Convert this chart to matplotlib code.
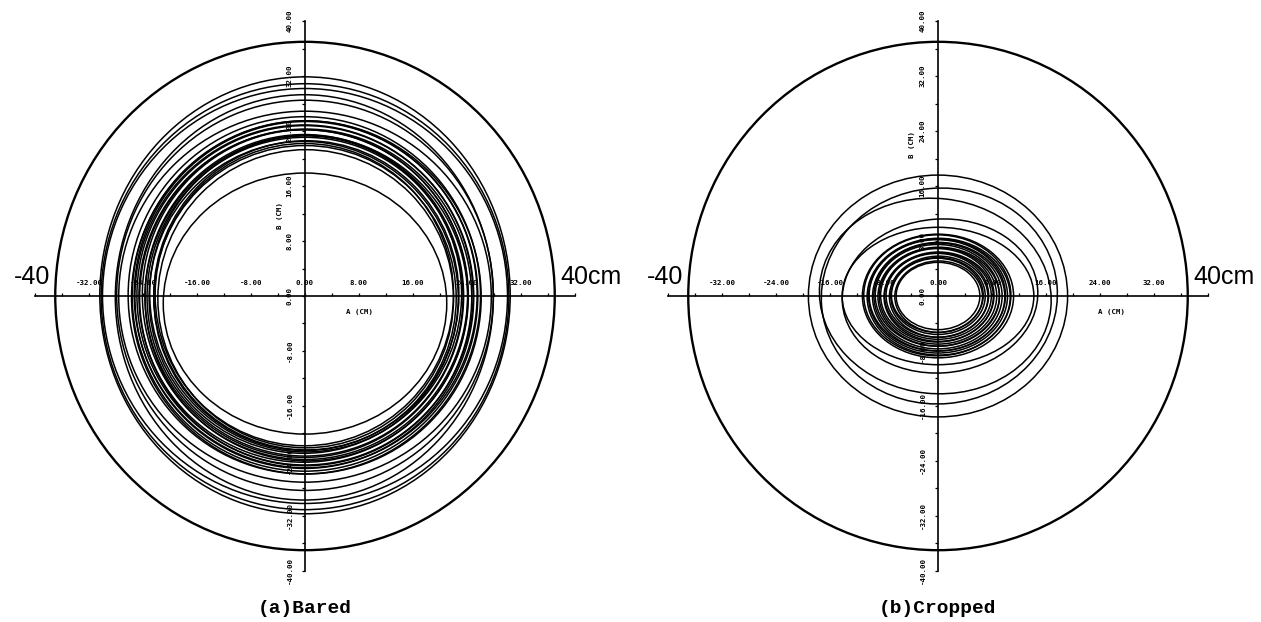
import matplotlib
matplotlib.use("Agg")
import matplotlib.pyplot as plt
from matplotlib.patches import Ellipse

# ---- data -------------------------------------------------------------
boundary_radius = 37.0          # outer reference circle (cm)
axis_limit = 40                 # axis extent (cm)
tick_step = 4
label_values = [-32, -24, -16, -8, 0, 8, 16, 24, 32]
v_label_values = [-40, -32, -24, -16, -8, 8, 16, 24, 32, 40]

# Bared beam: trajectory envelopes (rx, ry, cx, cy)
bared_rx = [21.0,
            21.9, 22.1, 22.4, 22.6, 22.9, 23.1, 23.4, 23.6, 23.9, 24.1,
            24.4, 24.6, 24.9, 25.1, 25.4, 25.6, 25.9, 26.1,
            27.6, 27.9, 28.0, 30.0, 30.2, 30.4]
bared_ry = [19.0,
            21.7, 22.0, 22.2, 22.5, 22.7, 23.0, 23.2, 23.5, 23.7, 24.0,
            24.2, 24.5, 24.7, 25.0, 25.2, 25.5, 25.7, 26.0,
            27.0, 28.4, 29.5, 30.2, 31.0, 31.8]
bared_cx = [0.0,
            0.1, -0.1, 0.0, 0.2, -0.2, 0.1, 0.0, -0.1, 0.2, 0.0,
            -0.2, 0.1, 0.0, -0.1, 0.1, 0.0, 0.2, -0.1,
            0.0, 0.0, -0.1, 0.0, 0.0, 0.0]
bared_cy = [-1.1,
            -0.4, 0.2, -0.3, 0.1, -0.2, 0.3, -0.1, 0.0, -0.3, 0.2,
            0.0, -0.2, 0.1, -0.1, 0.2, 0.0, -0.2, 0.1,
            -0.1, 0.1, -0.2, 0.0, -0.1, 0.1]

# Cropped beam: trajectory envelopes (rx, ry, cx, cy, tilt in degrees)
crop_rx = [6.2, 6.5, 6.8, 7.0, 7.3, 7.6, 7.9, 8.1, 8.4, 8.7, 9.0, 9.2, 9.5,
           9.8, 10.1, 10.3, 10.6, 10.9, 11.2,
           14.2, 14.5, 17.2, 17.5, 19.2]
crop_ry = [4.9, 5.2, 5.4, 5.6, 5.9, 6.1, 6.3, 6.5, 6.8, 7.0, 7.2, 7.4, 7.7,
           7.9, 8.1, 8.3, 8.5, 8.8, 9.0,
           10.0, 11.2, 14.2, 15.7, 17.6]
crop_cx = [0.0, 0.1, -0.1, 0.0, 0.1, -0.1, 0.0, 0.1, -0.1, 0.0, 0.1, -0.1,
           0.0, 0.1, -0.1, 0.0, 0.1, -0.1, 0.0,
           0.0, 0.3, -0.4, 0.2, 0.0]
crop_cy = [0.0, -0.1, 0.1, 0.0, -0.1, 0.1, 0.0, -0.1, 0.1, 0.0, -0.1, 0.1,
           0.0, -0.1, 0.1, 0.0, -0.1, 0.1, 0.0,
           0.0, 0.0, 0.0, 0.0, 0.0]
crop_tilt = [0, 0, 0, 0, 0, 0, 0, 0, 0, 0, 0, 0, 0, 0, 0, 0, 0, 0, 0,
             0, 4, -6, 5, 0]

panel_captions = ["(a)Bared", "(b)Cropped"]
a_label_pos = [(8.0, -2.4), (25.7, -2.4)]
b_label_pos = [(-3.7, 11.7), (-3.8, 22.0)]

# ---- figure -----------------------------------------------------------
W, H = 1261, 622
fig = plt.figure(figsize=(W / 100, H / 100), dpi=100)
sx, sy = 6.75, 6.87           # pixels per cm
centers = [(305, 296), (938, 296)]
half_w = 305

mono = ["DejaVu Sans Mono"]


def make_axes(cx_px, cy_px):
    left = (cx_px - half_w) / W
    ax = fig.add_axes([left, 0, 2 * half_w / W, 1])
    ax.set_xlim(-half_w / sx, half_w / sx)
    ax.set_ylim(-(H - cy_px) / sy, cy_px / sy)
    return ax


def draw_frame(ax, idx):
    for side in ["top", "right"]:
        ax.spines[side].set_visible(False)
    ax.spines["bottom"].set_position("zero")
    ax.spines["left"].set_position("zero")
    ax.spines["bottom"].set_bounds(-axis_limit, axis_limit)
    ax.spines["left"].set_bounds(-axis_limit, axis_limit)
    for s in ["bottom", "left"]:
        ax.spines[s].set_linewidth(1.2)
        ax.spines[s].set_zorder(4)
    ticks = list(range(-axis_limit, axis_limit + 1, tick_step))
    ax.set_xticks(ticks)
    ax.set_yticks(ticks)
    ax.tick_params(axis="x", direction="in", length=2.5, width=0.9,
                   labelbottom=False)
    ax.tick_params(axis="y", direction="out", length=2.5, width=0.9,
                   labelleft=False)
    ax.set_facecolor("none")

    for v in label_values:
        ax.text(v, 1.9, f"{v:.2f}", ha="center", va="center", fontsize=5.3,
                family=mono, weight="bold", zorder=3)
    for v in v_label_values:
        ax.text(-2.3, v, f"{v:.2f}", ha="center", va="center", fontsize=5.3,
                family=mono, weight="bold", rotation=90, zorder=3)
    ax.text(-2.3, 0, "0.00", ha="center", va="center", fontsize=5.3,
            family=mono, weight="bold", rotation=90, zorder=3)

    lx, ly = a_label_pos[idx]
    ax.text(lx, ly, "A (CM)", ha="center", va="center", fontsize=5.3,
            family=mono, weight="bold")
    bx, by = b_label_pos[idx]
    ax.text(bx, by, "B (CM)", ha="center", va="center", fontsize=5.3,
            family=mono, weight="bold", rotation=90)

    ax.add_patch(Ellipse((0, 0), 2 * boundary_radius, 2 * boundary_radius,
                         fill=False, lw=1.7, ec="black", zorder=5))
    ax.text(-37.7, 2.8, "-40", ha="right", va="center", fontsize=18,
            family=["Liberation Sans"])
    ax.text(37.8, 2.8, "40cm", ha="left", va="center", fontsize=18,
            family=["Liberation Sans"])
    ax.text(0, -45.5, panel_captions[idx], ha="center", va="center",
            fontsize=14, family=["Liberation Mono"], weight="bold")


ax_a = make_axes(*centers[0])
draw_frame(ax_a, 0)
for rx, ry, cx, cy in zip(bared_rx, bared_ry, bared_cx, bared_cy):
    ax_a.add_patch(Ellipse((cx, cy), 2 * rx, 2 * ry, fill=False,
                           lw=1.1, ec="black", zorder=5))

ax_b = make_axes(*centers[1])
draw_frame(ax_b, 1)
for rx, ry, cx, cy, t in zip(crop_rx, crop_ry, crop_cx, crop_cy, crop_tilt):
    ax_b.add_patch(Ellipse((cx, cy), 2 * rx, 2 * ry, angle=t, fill=False,
                           lw=1.1, ec="black", zorder=5))

fig.savefig("out.png", dpi=100, facecolor="white")
